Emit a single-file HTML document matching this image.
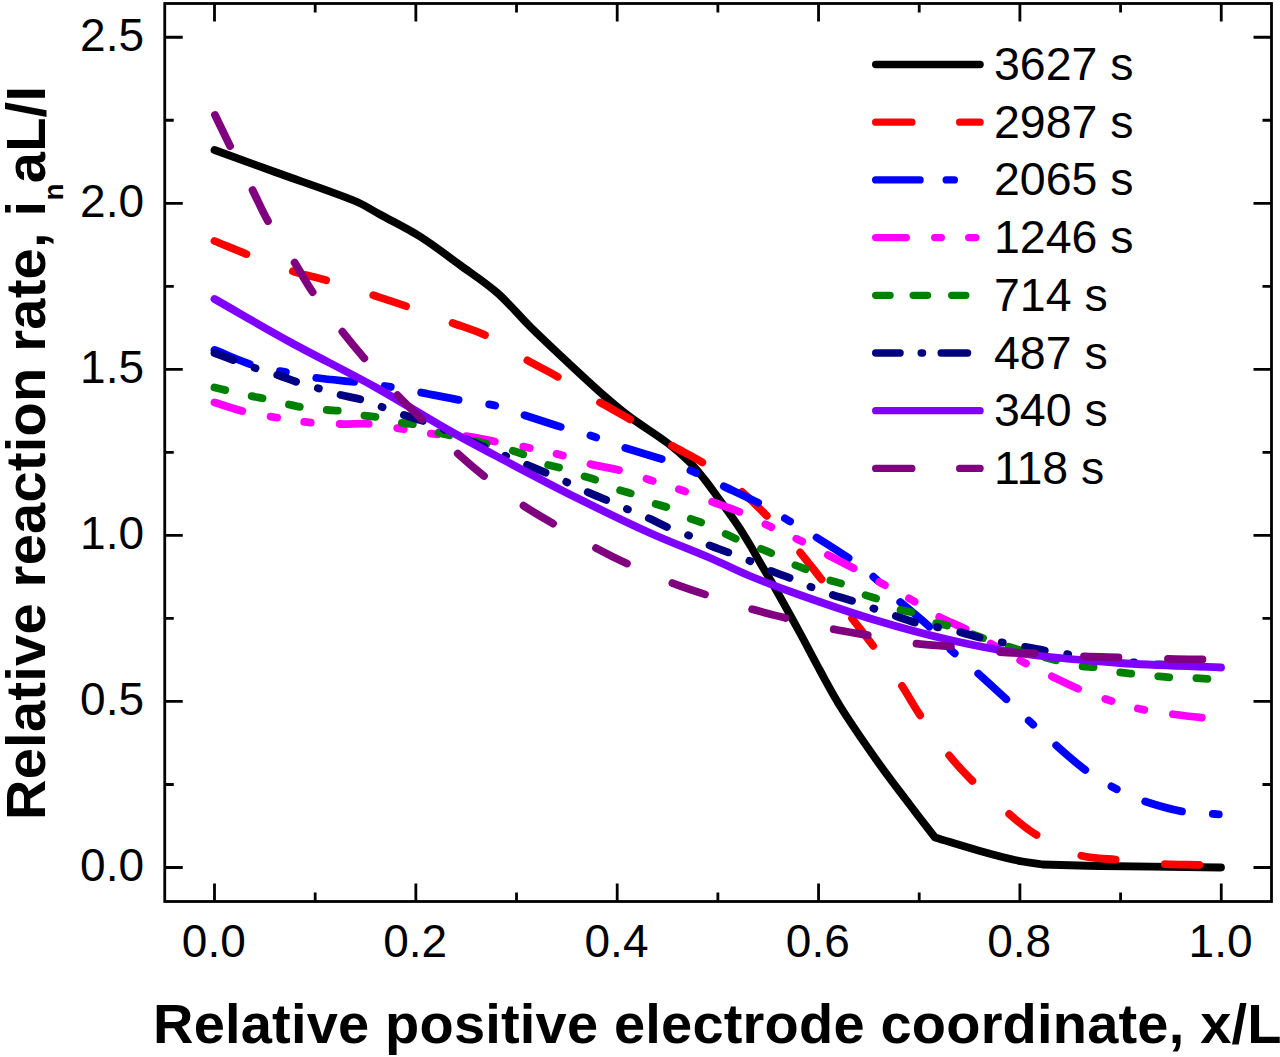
<!DOCTYPE html>
<html><head><meta charset="utf-8"><title>Relative reaction rate</title>
<style>html,body{margin:0;padding:0;background:#fff}svg{display:block}text{font-family:"Liberation Sans",Arial,sans-serif;fill:#000}</style></head><body>
<svg width="1280" height="1057" viewBox="0 0 1280 1057">
<rect x="0" y="0" width="1280" height="1057" fill="#fff"/>
<g fill="none" stroke-width="7.8" stroke-linecap="round" stroke-linejoin="round">
<path d="M214.50 150.00 C234.67 157.33 254.83 164.68 275.00 172.00 C301.66 181.68 328.76 190.38 355.00 201.00 C363.76 204.55 371.69 209.96 380.00 214.50 C393.35 221.79 407.15 228.39 420.00 236.50 C433.82 245.22 446.77 255.36 460.00 265.00 C472.60 274.19 485.82 282.74 497.50 293.00 C509.15 303.24 518.92 315.58 530.00 326.50 C543.09 339.41 556.56 351.95 570.00 364.50 C581.56 375.29 593.11 386.09 605.00 396.50 C613.11 403.59 621.36 410.57 630.00 417.00 C642.19 426.07 655.40 433.82 667.50 443.00 C675.40 448.99 682.95 455.55 690.00 462.50 C695.45 467.88 700.21 474.00 705.00 480.00 C709.38 485.50 713.38 491.30 717.50 497.00 C724.22 506.30 731.07 515.51 737.50 525.00 C741.91 531.51 745.96 538.26 750.00 545.00 C753.46 550.76 756.62 556.69 760.00 562.50 C764.96 571.03 770.13 579.42 775.00 588.00 C783.47 602.92 791.78 617.94 800.00 633.00 C806.78 645.44 813.15 658.10 820.00 670.50 C827.32 683.77 834.38 697.22 842.50 710.00 C854.38 728.72 867.15 746.92 880.00 765.00 C889.65 778.58 899.93 791.72 910.00 805.00 C918.26 815.89 926.67 826.67 935.00 837.50 C950.00 842.00 964.93 846.76 980.00 851.00 C991.59 854.26 1003.24 857.46 1015.00 860.00 C1024.07 861.96 1033.33 863.00 1042.50 864.50 C1061.67 865.00 1080.83 865.68 1100.00 866.00 C1140.33 866.68 1180.67 867.00 1221.00 867.50" stroke="#000000"/>
<path d="M214.50 241.00 C225.92 245.67 237.25 250.54 248.75 255.00 C263.25 260.62 277.71 266.47 292.50 271.25 C304.80 275.22 317.60 277.57 330.00 281.25 C344.27 285.49 358.35 290.36 372.50 295.00 C385.02 299.11 397.56 303.16 410.00 307.50 C423.81 312.32 437.53 317.41 451.25 322.50 C463.37 326.99 475.97 330.54 487.50 336.25 C500.55 342.71 512.34 351.70 525.00 359.00 C536.17 365.45 547.84 371.03 559.00 377.50 C572.01 385.03 584.55 393.36 597.50 401.00 C608.55 407.52 620.00 413.39 631.00 420.00 C643.83 427.72 656.13 436.35 669.00 444.00 C679.96 450.52 691.79 455.62 702.50 462.50 C714.62 470.29 726.38 478.84 737.50 488.00 C747.22 496.01 756.16 505.01 765.00 514.00 C775.66 524.84 786.05 536.01 796.00 547.50 C804.38 557.17 812.06 567.45 820.00 577.50 C830.89 591.29 841.71 605.13 852.50 619.00 C859.21 627.63 865.98 636.22 872.50 645.00 C881.82 657.55 891.23 670.07 900.00 683.00 C907.06 693.40 913.03 704.54 920.00 715.00 C927.69 726.54 935.45 738.10 944.00 749.00 C951.79 758.93 960.11 768.54 969.00 777.50 C980.11 788.71 992.00 799.23 1004.00 809.50 C1014.00 818.06 1023.81 827.21 1035.00 834.00 C1048.81 842.38 1063.66 850.31 1079.00 855.00 C1091.99 858.97 1106.31 858.52 1120.00 860.00 C1134.15 861.52 1148.30 863.16 1162.50 864.00 C1176.30 864.82 1190.17 864.53 1204.00 865.00 C1209.67 865.19 1215.33 865.67 1221.00 866.00" stroke="#ff0000" stroke-dasharray="34.5 49.5"/>
<path d="M214.50 350.00 C228.67 355.50 242.53 362.07 257.00 366.50 C267.03 369.57 277.66 370.53 288.00 372.50 C297.83 374.37 307.60 376.62 317.50 378.00 C331.60 379.96 345.86 380.77 360.00 382.50 C370.36 383.77 380.70 385.31 391.00 387.00 C401.03 388.64 411.01 390.61 421.00 392.50 C435.68 395.28 450.29 398.42 465.00 401.00 C474.96 402.75 485.20 403.17 495.00 405.50 C504.86 407.84 514.32 411.86 524.00 415.00 C538.49 419.70 552.95 424.49 567.50 429.00 C576.62 431.83 585.93 434.03 595.00 437.00 C604.77 440.20 614.24 444.27 624.00 447.50 C638.41 452.27 653.20 455.96 667.50 461.00 C676.86 464.30 685.94 468.43 695.00 472.50 C703.77 476.43 712.34 480.83 721.00 485.00 C734.84 491.66 748.91 497.89 762.50 505.00 C770.57 509.22 778.17 514.32 786.00 519.00 C794.34 523.99 802.76 528.85 811.00 534.00 C824.09 542.18 837.26 550.30 850.00 559.00 C857.76 564.30 865.37 569.90 872.50 576.00 C880.37 582.73 887.26 590.60 895.00 597.50 C905.59 606.94 917.16 615.31 927.50 625.00 C935.83 632.81 942.79 642.06 951.00 650.00 C957.62 656.40 965.11 661.88 972.00 668.00 C983.11 677.88 994.09 687.90 1005.00 698.00 C1012.09 704.57 1018.93 711.41 1026.00 718.00 C1033.59 725.08 1041.19 732.16 1049.00 739.00 C1061.19 749.66 1073.11 760.76 1086.00 770.50 C1094.28 776.76 1103.35 782.09 1112.50 787.00 C1121.68 791.93 1131.16 796.61 1141.00 800.00 C1155.33 804.94 1170.13 809.19 1185.00 812.00 C1194.80 813.85 1205.00 813.31 1215.00 814.00 C1217.00 814.14 1219.00 814.33 1221.00 814.50" stroke="#0000ff" stroke-dasharray="38 31 6 31"/>
<path d="M214.50 402.50 C225.00 405.67 235.36 409.41 246.00 412.00 C255.86 414.41 265.97 415.85 276.00 417.50 C287.30 419.35 298.62 421.34 310.00 422.50 C319.95 423.51 329.99 423.76 340.00 424.00 C350.83 424.26 361.74 423.14 372.50 424.00 C382.57 424.81 392.49 427.37 402.50 429.00 C412.99 430.71 423.45 432.82 434.00 434.00 C444.28 435.15 454.75 434.68 465.00 436.00 C476.75 437.51 488.33 440.35 500.00 442.50 C509.16 444.19 518.37 445.63 527.50 447.50 C538.71 449.80 549.94 452.08 561.00 455.00 C570.78 457.58 580.21 461.45 590.00 464.00 C600.71 466.79 611.81 468.15 622.50 471.00 C631.81 473.48 640.83 477.02 650.00 480.00 C660.83 483.52 671.76 486.74 682.50 490.50 C691.76 493.74 700.82 497.55 710.00 501.00 C720.32 504.88 730.86 508.20 741.00 512.50 C750.53 516.54 759.64 521.56 769.00 526.00 C778.97 530.73 789.10 535.14 799.00 540.00 C808.10 544.47 817.00 549.34 826.00 554.00 C835.66 559.00 845.37 563.92 855.00 569.00 C863.71 573.59 872.36 578.29 881.00 583.00 C891.02 588.46 901.15 593.75 911.00 599.50 C919.98 604.75 928.36 611.07 937.50 616.00 C947.19 621.23 957.73 624.90 967.50 630.00 C976.89 634.90 985.81 640.71 995.00 646.00 C1004.64 651.55 1014.21 657.24 1024.00 662.50 C1032.21 666.91 1040.61 670.95 1049.00 675.00 C1059.61 680.12 1070.14 685.46 1081.00 690.00 C1090.48 693.96 1100.21 697.40 1110.00 700.50 C1120.71 703.90 1131.54 707.07 1142.50 709.50 C1151.88 711.57 1161.47 712.72 1171.00 714.00 C1182.64 715.56 1194.32 716.83 1206.00 718.00 C1210.99 718.50 1216.00 718.67 1221.00 719.00" stroke="#ff00ff" stroke-dasharray="29 29 6.5 27.5 6.5 29"/>
<path d="M214.50 387.50 C219.33 388.67 224.16 389.87 229.00 391.00 C236.32 392.71 243.65 394.41 251.00 396.00 C255.98 397.08 261.02 397.89 266.00 399.00 C273.69 400.72 281.31 402.78 289.00 404.50 C293.98 405.61 298.96 406.78 304.00 407.50 C311.79 408.61 319.66 409.26 327.50 410.00 C331.99 410.42 336.55 410.33 341.00 411.00 C348.71 412.16 356.30 414.22 364.00 415.50 C369.30 416.38 374.73 416.48 380.00 417.50 C386.73 418.81 393.27 421.15 400.00 422.50 C405.77 423.65 411.84 423.51 417.50 425.00 C423.84 426.67 429.66 430.24 436.00 432.00 C448.83 435.57 462.04 437.85 475.00 441.00 C486.70 443.85 498.41 446.75 510.00 450.00 C515.07 451.42 520.11 453.05 525.00 455.00 C531.78 457.71 538.15 461.53 545.00 464.00 C550.15 465.86 555.76 466.35 561.00 468.00 C567.43 470.02 573.62 472.81 580.00 475.00 C585.78 476.98 591.81 478.29 597.50 480.50 C603.81 482.95 609.68 486.56 616.00 489.00 C621.35 491.06 627.15 491.94 632.50 494.00 C638.82 496.44 644.68 500.06 651.00 502.50 C656.35 504.56 662.21 505.31 667.50 507.50 C673.88 510.14 679.67 514.20 686.00 517.00 C691.34 519.37 697.12 520.71 702.50 523.00 C709.29 525.88 715.82 529.35 722.50 532.50 C727.49 534.85 732.43 537.33 737.50 539.50 C744.10 542.33 750.84 544.82 757.50 547.50 C762.01 549.32 766.61 550.93 771.00 553.00 C778.28 556.43 785.21 560.60 792.50 564.00 C797.38 566.27 802.59 567.80 807.50 570.00 C813.75 572.80 819.65 576.46 826.00 579.00 C831.32 581.13 837.20 581.82 842.50 584.00 C849.37 586.82 855.66 591.09 862.50 594.00 C867.82 596.26 873.69 597.22 879.00 599.50 C885.35 602.22 891.08 606.51 897.50 609.00 C902.25 610.84 907.71 610.73 912.50 612.50 C919.88 615.23 926.62 619.77 934.00 622.50 C938.79 624.27 944.12 624.41 949.00 626.00 C966.12 631.58 982.88 638.36 1000.00 644.00 C1013.22 648.36 1026.58 652.31 1040.00 656.00 C1053.25 659.64 1066.57 663.24 1080.00 666.00 C1085.24 667.08 1090.72 666.66 1096.00 667.50 C1103.22 668.66 1110.29 670.80 1117.50 672.00 C1123.29 672.96 1129.16 673.38 1135.00 674.00 C1141.66 674.71 1148.33 675.38 1155.00 676.00 C1160.83 676.54 1166.66 677.19 1172.50 677.50 C1179.16 677.86 1185.84 677.74 1192.50 678.00 C1198.67 678.24 1204.83 678.68 1211.00 679.00 C1214.33 679.18 1217.67 679.33 1221.00 679.50" stroke="#008000" stroke-dasharray="11 27.2"/>
<path d="M214.50 353.00 C223.00 356.17 231.49 359.37 240.00 362.50 C245.99 364.70 251.95 366.98 258.00 369.00 C264.45 371.15 271.06 372.83 277.50 375.00 C285.89 377.83 294.08 381.29 302.50 384.00 C308.58 385.96 314.86 387.25 321.00 389.00 C327.69 390.91 334.27 393.24 341.00 395.00 C348.94 397.07 357.16 398.16 365.00 400.50 C371.66 402.49 377.97 405.57 384.50 408.00 C390.97 410.41 397.46 412.79 404.00 415.00 C411.79 417.63 419.86 419.49 427.50 422.50 C443.53 428.82 459.13 436.25 475.00 443.00 C491.63 450.08 508.34 456.99 525.00 464.00 C533.67 467.65 542.37 471.24 551.00 475.00 C556.54 477.41 562.03 479.93 567.50 482.50 C573.37 485.26 579.08 488.35 585.00 491.00 C593.58 494.85 602.36 498.27 611.00 502.00 C617.03 504.60 622.97 507.41 629.00 510.00 C634.63 512.41 640.41 514.49 646.00 517.00 C654.91 520.99 663.54 525.63 672.50 529.50 C678.21 531.96 684.30 533.53 690.00 536.00 C695.46 538.37 700.51 541.69 706.00 544.00 C715.18 547.86 724.70 550.91 734.00 554.50 C739.37 556.57 744.76 558.63 750.00 561.00 C755.43 563.46 760.51 566.68 766.00 569.00 C775.51 573.02 785.40 576.16 795.00 580.00 C800.40 582.16 805.60 584.84 811.00 587.00 C817.26 589.51 823.60 591.87 830.00 594.00 C839.10 597.03 848.40 599.47 857.50 602.50 C863.40 604.47 869.14 606.91 875.00 609.00 C880.81 611.07 886.65 613.05 892.50 615.00 C901.65 618.05 910.71 621.50 920.00 624.00 C926.21 625.67 932.68 626.27 939.00 627.50 C944.68 628.60 950.39 629.60 956.00 631.00 C965.72 633.43 975.27 636.59 985.00 639.00 C990.77 640.43 996.67 641.33 1002.50 642.50 C1008.33 643.67 1014.15 644.90 1020.00 646.00 C1029.15 647.73 1038.31 649.47 1047.50 651.00 C1058.31 652.80 1069.14 654.50 1080.00 656.00 C1093.31 657.84 1106.64 659.58 1120.00 661.00 C1133.31 662.41 1146.64 663.71 1160.00 664.50 C1180.31 665.71 1200.67 666.17 1221.00 667.00" stroke="#000080" stroke-dasharray="20 22.75 1 22.75"/>
<path d="M214.50 299.00 C239.67 313.33 264.61 328.08 290.00 342.00 C318.11 357.41 346.99 371.42 375.00 387.00 C400.32 401.09 424.80 416.69 450.00 431.00 C466.47 440.35 483.25 449.16 500.00 458.00 C524.92 471.16 549.80 484.40 575.00 497.00 C599.80 509.40 624.73 521.61 650.00 533.00 C670.56 542.27 691.77 550.09 712.50 559.00 C725.11 564.42 737.31 570.78 750.00 576.00 C766.48 582.78 783.19 589.08 800.00 595.00 C824.85 603.75 849.77 612.43 875.00 620.00 C899.77 627.43 924.78 634.28 950.00 640.00 C974.78 645.62 999.82 650.59 1025.00 654.00 C1056.49 658.26 1088.28 660.81 1120.00 663.00 C1153.61 665.31 1187.33 666.00 1221.00 667.50" stroke="#8000ff"/>
<path d="M215.00 115.00 C220.67 126.67 226.20 138.40 232.00 150.00 C238.70 163.40 245.73 176.64 252.50 190.00 C257.98 200.80 262.69 212.03 268.75 222.50 C276.44 235.78 285.54 248.25 293.75 261.25 C300.54 272.00 306.55 283.28 313.75 293.75 C322.30 306.19 331.69 318.10 341.00 330.00 C348.44 339.51 356.11 348.86 364.00 358.00 C374.11 369.70 384.41 381.25 395.00 392.50 C403.07 401.08 411.56 409.27 420.00 417.50 C431.56 428.77 443.08 440.11 455.00 451.00 C464.42 459.61 474.05 468.01 484.00 476.00 C496.05 485.68 508.26 495.27 521.00 504.00 C532.09 511.60 543.90 518.18 555.50 525.00 C568.56 532.68 581.65 540.33 595.00 547.50 C606.49 553.67 618.16 559.55 630.00 565.00 C643.49 571.21 657.15 577.13 671.00 582.50 C683.82 587.47 696.94 591.67 710.00 596.00 C723.61 600.51 737.23 605.04 751.00 609.00 C763.89 612.71 776.97 615.80 790.00 619.00 C804.13 622.47 818.25 626.06 832.50 629.00 C845.75 631.73 859.16 633.68 872.50 636.00 C887.00 638.52 901.43 641.56 916.00 643.50 C928.93 645.22 942.01 645.69 955.00 647.00 C970.01 648.52 984.96 650.82 1000.00 652.00 C1012.46 652.98 1025.01 652.84 1037.50 653.50 C1053.34 654.34 1069.16 655.75 1085.00 656.50 C1097.49 657.09 1110.00 657.12 1122.50 657.50 C1137.50 657.95 1152.50 658.64 1167.50 659.00 C1180.33 659.31 1193.17 659.26 1206.00 659.50 C1211.00 659.59 1216.00 659.83 1221.00 660.00" stroke="#800080" stroke-dasharray="34.5 49.5"/>
</g>
<g stroke="#000" stroke-width="2.8" fill="none" stroke-linecap="butt">
<rect x="164.75" y="3.50" width="1106.75" height="898.00"/>
<path d="M214.50 901.50V883.50M214.50 3.50V21.50M315.18 901.50V892.50M315.18 3.50V12.50M415.85 901.50V883.50M415.85 3.50V21.50M516.52 901.50V892.50M516.52 3.50V12.50M617.20 901.50V883.50M617.20 3.50V21.50M717.88 901.50V892.50M717.88 3.50V12.50M818.55 901.50V883.50M818.55 3.50V21.50M919.22 901.50V892.50M919.22 3.50V12.50M1019.90 901.50V883.50M1019.90 3.50V21.50M1120.58 901.50V892.50M1120.58 3.50V12.50M1221.25 901.50V883.50M1221.25 3.50V21.50M164.75 867.50H182.75M1271.50 867.50H1253.50M164.75 784.48H173.75M1271.50 784.48H1262.50M164.75 701.45H182.75M1271.50 701.45H1253.50M164.75 618.42H173.75M1271.50 618.42H1262.50M164.75 535.40H182.75M1271.50 535.40H1253.50M164.75 452.38H173.75M1271.50 452.38H1262.50M164.75 369.35H182.75M1271.50 369.35H1253.50M164.75 286.32H173.75M1271.50 286.32H1262.50M164.75 203.30H182.75M1271.50 203.30H1253.50M164.75 120.27H173.75M1271.50 120.27H1262.50M164.75 37.25H182.75M1271.50 37.25H1253.50"/>
</g>
<g font-size="46">
<text x="213.80" y="957" text-anchor="middle">0.0</text>
<text x="415.15" y="957" text-anchor="middle">0.2</text>
<text x="616.50" y="957" text-anchor="middle">0.4</text>
<text x="817.85" y="957" text-anchor="middle">0.6</text>
<text x="1019.20" y="957" text-anchor="middle">0.8</text>
<text x="1220.55" y="957" text-anchor="middle">1.0</text>
<text x="144" y="880.90" text-anchor="end">0.0</text>
<text x="144" y="714.85" text-anchor="end">0.5</text>
<text x="144" y="548.80" text-anchor="end">1.0</text>
<text x="144" y="382.75" text-anchor="end">1.5</text>
<text x="144" y="216.70" text-anchor="end">2.0</text>
<text x="144" y="50.65" text-anchor="end">2.5</text>
</g>
<text id="xt" x="153" y="1042.5" font-size="56" font-weight="bold" textLength="1128.5" lengthAdjust="spacing">Relative positive electrode coordinate, x/L</text>
<text id="yt" transform="translate(44.5 820) rotate(-90)" font-size="56" font-weight="bold" textLength="734" lengthAdjust="spacing">Relative reaction rate, i<tspan font-size="28" dy="18">n</tspan><tspan dy="-18">aL/I</tspan></text>
<g fill="none" stroke-width="7.3" stroke-linecap="round">
<path d="M875.65 64.50H980.10" stroke="#000000"/>
<path d="M875.65 122.20H911.85M959.65 122.20H980.10" stroke="#ff0000"/>
<path d="M875.65 179.90H920.10M946.15 179.90H954.35" stroke="#0000ff"/>
<path d="M875.65 237.60H906.35M934.65 237.60H941.35M968.65 237.60H975.85" stroke="#ff00ff"/>
<path d="M875.65 295.30H890.10M913.15 295.30H927.60M951.65 295.30H965.85" stroke="#008000"/>
<path d="M875.65 353.00H900.10M921.15 353.00H922.60M941.15 353.00H967.60" stroke="#000080"/>
<path d="M875.65 410.70H980.10" stroke="#8000ff"/>
<path d="M875.65 468.40H911.85M959.65 468.40H980.10" stroke="#800080"/>
</g>
<g font-size="46.5">
<text x="994" y="80.00">3627 s</text>
<text x="994" y="137.70">2987 s</text>
<text x="994" y="195.40">2065 s</text>
<text x="994" y="253.10">1246 s</text>
<text x="994" y="310.80">714 s</text>
<text x="994" y="368.50">487 s</text>
<text x="994" y="426.20">340 s</text>
<text x="994" y="483.90">118 s</text>
</g>
</svg></body></html>
